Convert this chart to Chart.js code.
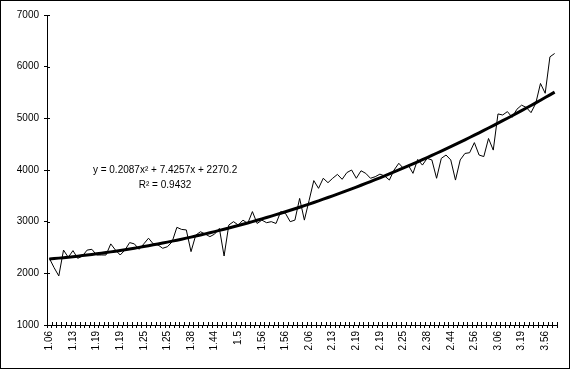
<!DOCTYPE html>
<html>
<head>
<meta charset="utf-8">
<script src="https://cdn.jsdelivr.net/npm/chart.js@4"></script>
<style>
  body { margin: 0; background: #fff; }
  canvas { display: block; }
</style>
</head>
<body>
<canvas id="chartTrend" width="570" height="369"></canvas>
<script>
// valeurs (108 points)
let values = [
    2290, 2110, 1950, 2450, 2310, 2440, 2290, 2335, 2450, 2465,
    2355, 2355, 2355, 2570, 2450, 2355, 2450, 2595, 2570, 2465,
    2570, 2680, 2570, 2550, 2485, 2515, 2610, 2890, 2850, 2840,
    2420, 2740, 2805, 2760, 2710, 2760, 2870, 2335, 2935, 3000,
    2935, 3030, 2965, 3195, 2965, 3030, 2980, 3000, 2965, 3195,
    3160, 3000, 3030, 3450, 3030, 3410, 3795, 3645, 3840, 3755,
    3840, 3915, 3820, 3950, 4000, 3840, 3985, 3935, 3840, 3870,
    3920, 3885, 3805, 4000, 4130, 4030, 4095, 3935, 4205, 4095,
    4225, 4195, 3840, 4225, 4290, 4195, 3805, 4195, 4320, 4335,
    4530, 4290, 4260, 4610, 4385, 5085, 5065, 5130, 5020, 5175,
    5255, 5210, 5110, 5290, 5675, 5485, 6190, 6255
];
// étiquettes visibles (une toutes les 5 catégories)
let tickLabels = ['1.06', '1.13', '1.19', '1.19', '1.25', '1.25', '1.38', '1.44', '1.5', '1.56', '1.56',
    '2.06', '2.13', '2.19', '2.19', '2.25', '2.38', '2.44', '2.56', '3.06', '3.19', '3.56'];
let labelStep = 5;
let yTicks = [1000, 2000, 3000, 4000, 5000, 6000, 7000];
// tendance polynomiale affichée : y = a x² + b x + c
let trendCoef = [0.2087, 7.4257, 2270.2];
let trendText = ['y = 0.2087x\u00B2 + 7.4257x + 2270.2', 'R\u00B2 = 0.9432'];

let categories = values.map((v, i) => i);
let trend = categories.map(i => {
    let x = i + 1;
    return trendCoef[0] * x * x + trendCoef[1] * x + trendCoef[2];
});

const font = { family: '"Liberation Sans", Arial, sans-serif', size: 10 };

// petits traits qui traversent les axes + cadre + texte de l'équation
const excelLook = {
    id: 'excelLook',
    afterDraw(chart) {
        const ctx = chart.ctx;
        const xs = chart.scales.x;
        const ys = chart.scales.y;
        const area = chart.chartArea;
        ctx.save();
        ctx.strokeStyle = '#000';
        ctx.lineWidth = 1;
        ctx.beginPath();
        for (let i = 0; i <= values.length; i++) {
            let px = Math.round(xs.getPixelForValue(i - 0.5)) + 0.5;
            ctx.moveTo(px, area.bottom);
            ctx.lineTo(px, area.bottom - 3);
        }
        yTicks.forEach(t => {
            let py = Math.round(ys.getPixelForValue(t)) + 0.5;
            ctx.moveTo(area.left, py);
            ctx.lineTo(area.left + 3, py);
        });
        ctx.stroke();
        ctx.strokeRect(0.5, 0.5, chart.width - 1, chart.height - 1);

        ctx.fillStyle = '#000';
        ctx.font = font.size + 'px ' + font.family;
        ctx.textAlign = 'center';
        ctx.textBaseline = 'alphabetic';
        let cx = xs.getPixelForValue(24.5);
        ctx.fillText(trendText[0], cx, ys.getPixelForValue(3950));
        ctx.fillText(trendText[1], cx, ys.getPixelForValue(3660));
        ctx.restore();
    }
};

const ctx1 = document.getElementById('chartTrend').getContext('2d');
const chartTrend = new Chart(ctx1, {
    type: 'line',
    data: {
        labels: categories,
        datasets: [{
            label: 'Tendance',
            data: trend,
            borderColor: '#000',
            borderWidth: 3,
            pointRadius: 0,
            tension: 0,
        }, {
            label: 'Valeurs',
            data: values,
            borderColor: '#000',
            borderWidth: 1,
            pointRadius: 0,
            tension: 0,
        }]
    },
    options: {
        responsive: false,
        animation: false,
        devicePixelRatio: 1,
        layout: { padding: { left: 0, top: 15, right: 13, bottom: 0 } },
        plugins: {
            legend: { display: false },
            tooltip: { enabled: false }
        },
        scales: {
            x: {
                type: 'category',
                offset: true,
                grid: { offset: true, drawOnChartArea: false, drawTicks: true, tickLength: 3, color: '#000' },
                border: { display: true, color: '#000', width: 1 },
                ticks: {
                    autoSkip: false,
                    maxRotation: 90,
                    minRotation: 90,
                    padding: 3,
                    color: '#000',
                    font: font,
                    callback: (v, i) => i % labelStep === 0 ? tickLabels[i / labelStep] : ''
                },
                afterFit: scale => { scale.height = 44; }
            },
            y: {
                min: 1000,
                max: 7000,
                grid: { drawOnChartArea: false, drawTicks: true, tickLength: 3, color: '#000' },
                border: { display: true, color: '#000', width: 1 },
                ticks: {
                    stepSize: 1000,
                    padding: 5,
                    color: '#000',
                    font: font,
                    callback: v => String(v)
                },
                afterFit: scale => { scale.width = 47; }
            }
        }
    },
    plugins: [excelLook]
});
</script>
</body>
</html>
